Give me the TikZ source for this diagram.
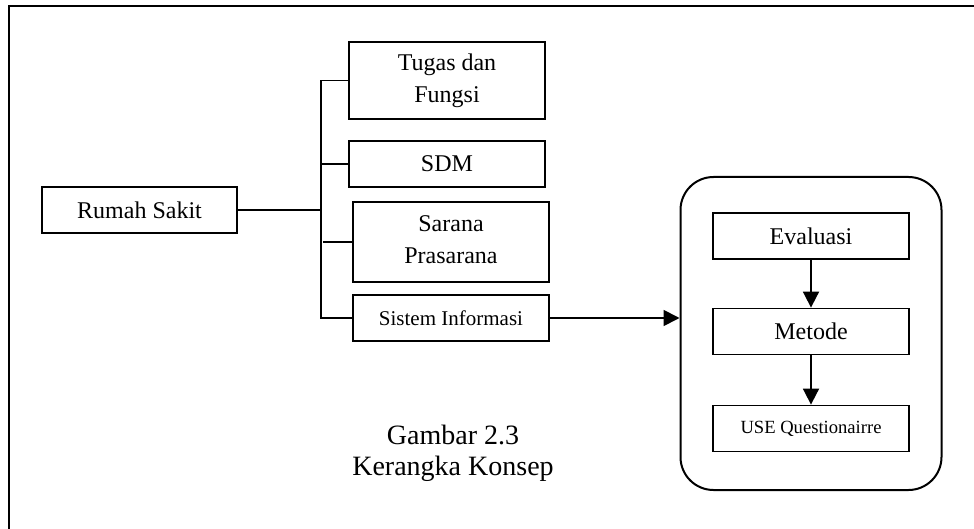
\documentclass[tikz,border=0pt]{standalone}
\usepackage{fontspec}
\setmainfont{Liberation Serif}
\usepackage{tikz}
\usetikzlibrary{calc,arrows.meta}

\begin{document}
\begin{tikzpicture}[x=0.5pt,y=-0.5pt,
    box/.style={draw,line width=0.9pt,inner sep=0pt,align=center,font=\fontsize{12}{16}\selectfont},
    link/.style={line width=0.9pt},
    flow/.style={line width=0.9pt,-{Triangle[length=8pt,width=8pt]}}]
            % page size and outer frame
            \useasboundingbox (0,0) rectangle (974,529);
            \draw[line width=1.1pt] (9,6) rectangle (1000,560);
            % coordinates
            \coordinate (trunk) at (321,208); % vertical branch line
            % left part
            \node[box,minimum width=97.5pt,minimum height=23pt] (rs) at (139.5,210) {Rumah Sakit};
            \node[box,minimum width=98pt,minimum height=38.5pt,text depth=2pt] (tugas) at (447,80.5) {Tugas dan\\Fungsi};
            \node[box,minimum width=98pt,minimum height=23pt] (sdm) at (447,164) {SDM};
            \node[box,minimum width=98pt,minimum height=40pt,text depth=2pt] (sarana) at (451,242) {Sarana\\Prasarana};
            \node[box,minimum width=98pt,minimum height=23pt,font=\fontsize{10.5}{13}\selectfont] (sistem) at (451,318) {Sistem Informasi};
            % branch lines
            \draw[link] (rs.east) -- (rs.east -| trunk);
            \draw[link] (tugas.west) -- (tugas.west -| trunk) -- (sistem.west -| trunk) -- (sistem.west);
            \draw[link] (sdm.west) -- (sdm.west -| trunk);
            \draw[link] (sarana.west) -- ($(sarana.west -| trunk) + (2,0)$);
            % rounded frame on the right
            \node[draw,line width=1pt,rounded corners=16.5pt,minimum width=130.5pt,minimum height=156.5pt] (kotak) at (811,333.5) {};
            \node[box,minimum width=98pt,minimum height=23pt] (evaluasi) at (811,236) {Evaluasi};
            \node[box,minimum width=98pt,minimum height=23pt] (metode) at (811,331.5) {Metode};
            \node[box,minimum width=98pt,minimum height=23pt,font=\fontsize{9.3}{12}\selectfont] (use) at (811,428.5) {USE Questionairre};
            % arrows
            \draw[flow] (sistem.east) -- (sistem.east -| kotak.west);
            \draw[flow] (evaluasi.south) -- (metode.north);
            \draw[flow] (metode.south) -- (use.north);
            % caption
            \node[align=center,font=\fontsize{14}{15.5}\selectfont] (judul) at (453,453) {Gambar 2.3\\Kerangka Konsep};
        \end{tikzpicture}
\end{document}
